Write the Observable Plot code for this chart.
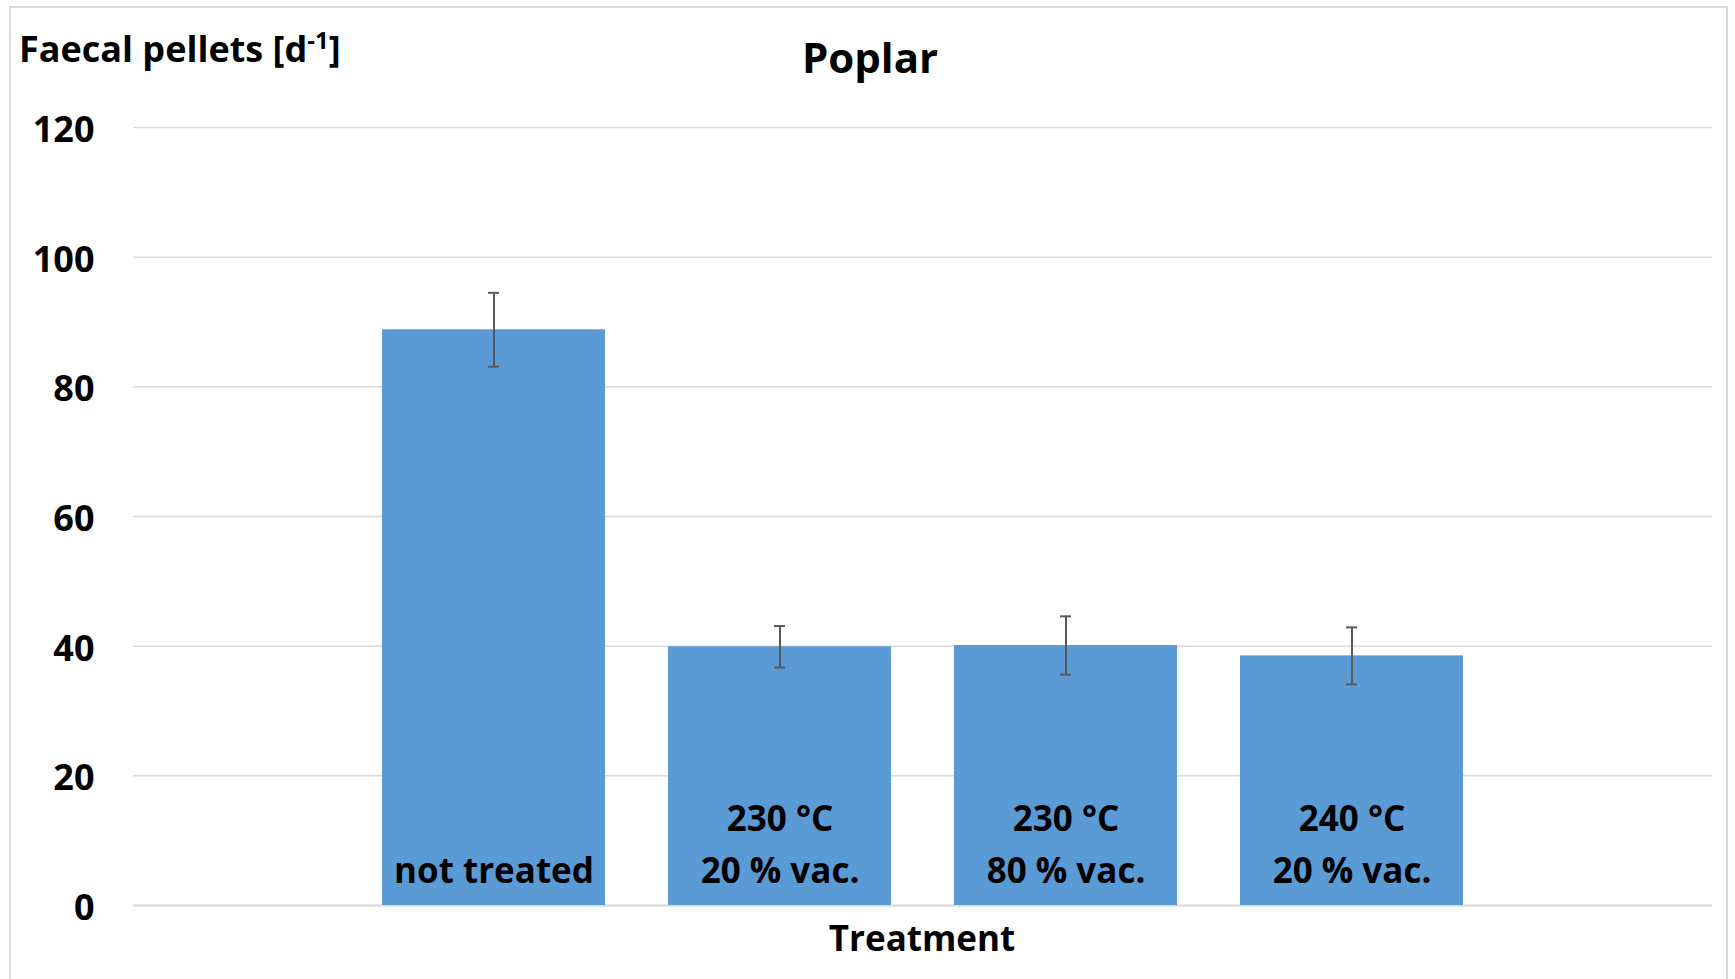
<!DOCTYPE html>
<html><head><meta charset="utf-8">
<script src="https://cdn.jsdelivr.net/npm/d3@7"></script>
<script src="https://cdn.jsdelivr.net/npm/@observablehq/plot@0.6"></script>
<style>
body{margin:0;background:#fff;}
#wrap{position:relative;width:1735px;height:979px;overflow:hidden;font-family:"Open Sans",sans-serif;font-weight:700;color:#000;}
#border{position:absolute;left:9px;top:6px;width:1719px;height:1000px;border:2px solid #d9d9d9;box-sizing:border-box;pointer-events:none;}
.lbl{position:absolute;white-space:nowrap;line-height:1;}
#title{left:870px;top:57px;font-size:42px;transform:translate(-50%,-50%);}
#ylab{left:19px;top:49px;font-size:36px;transform:translate(0,-50%);}
#ylab sup{font-size:24px;vertical-align:0.55em;line-height:0;}
#xlab{left:922px;top:937px;font-size:35px;transform:translate(-50%,-50%);}
#chart{position:absolute;left:0;top:0;}
</style>
</head><body>
<div id="wrap">
  <div id="chart"></div>
  <div id="border"></div>
  <div class="lbl" id="title">Poplar</div>
  <div class="lbl" id="ylab">Faecal pellets [d<sup>-1</sup>]</div>
  <div class="lbl" id="xlab">Treatment</div>
</div>
<script>
const categories = ["not treated", "230 °C 20 % vac.", "230 °C 80 % vac.", "240 °C 20 % vac."];
const labelTop = ["", "230 °C", "230 °C", "240 °C"];
const labelBottom = ["not treated", "20 % vac.", "80 % vac.", "20 % vac."];
const values = [88.8, 39.9, 40.1, 38.5];
const errors = [5.7, 3.2, 4.5, 4.4];
const yTicks = [0, 20, 40, 60, 80, 100, 120];

const data = categories.map((c, i) => ({
  cat: c, top: labelTop[i], bottom: labelBottom[i],
  v: values[i], lo: values[i] - errors[i], hi: values[i] + errors[i]
}));

const chart = Plot.plot({
  width: 1735,
  height: 979,
  marginLeft: 133,
  marginRight: 23,
  marginTop: 127,
  marginBottom: 74,
  style: {fontFamily: "'Open Sans', sans-serif", fontSize: "34px", fontWeight: 700, color: "#000", background: "transparent"},
  x: {domain: categories, paddingInner: 0.22, paddingOuter: 0.87, axis: null},
  y: {domain: [0, 120], axis: null},
  marks: [
    Plot.gridY(yTicks, {stroke: "#d9d9d9", strokeOpacity: 1, strokeWidth: 1.5}),
    Plot.ruleY([0], {stroke: "#d9d9d9", strokeWidth: 2}),
    Plot.axisY(yTicks, {tickSize: 0, tickPadding: 39, dy: 3, fontSize: 36, fontWeight: 700, label: null, tickFormat: d => String(d)}),
    Plot.barY(data, {x: "cat", y: "v", fill: "#5b9bd5"}),
    Plot.ruleX(data, {x: "cat", y1: "lo", y2: "hi", stroke: "#595959", strokeWidth: 2}),
    Plot.tickY(data, {x: "cat", y: "hi", stroke: "#595959", strokeWidth: 2, insetLeft: 106, insetRight: 106}),
    Plot.tickY(data, {x: "cat", y: "lo", stroke: "#595959", strokeWidth: 2, insetLeft: 106, insetRight: 106}),
    Plot.text(data, {x: "cat", y: () => 0, text: "bottom", dy: -34, lineAnchor: "middle", fontSize: 35, fontWeight: 700, fill: "#000"}),
    Plot.text(data, {x: "cat", y: () => 0, text: "top", dy: -86, lineAnchor: "middle", fontSize: 35, fontWeight: 700, fill: "#000"})
  ]
});
document.getElementById("chart").appendChild(chart);
</script>
</body></html>
